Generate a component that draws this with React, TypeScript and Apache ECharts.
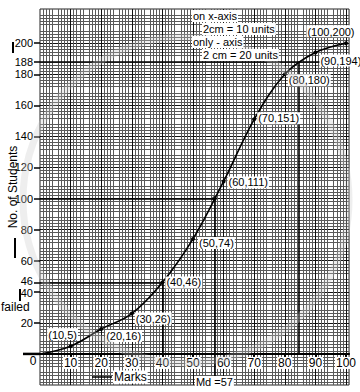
import React, { useEffect, useRef } from "react";
import * as echarts from "echarts";

// ---- data ----
const marks = [0, 10, 20, 30, 40, 50, 60, 70, 80, 90, 100];
const students = [0, 5, 16, 26, 46, 74, 111, 151, 180, 194, 200];
const xTickLabels = [10, 20, 30, 40, 50, 60, 70, 80, 90, 100];
const yTickLabels = [20, 40, 46, 60, 80, 100, 120, 140, 160, 180, 188, 200];
const medianMark = 57;
const medianCount = 100;
const failedMark = 40;
const failedCount = 46;
const passMark = 84.5;
const passCount = 188;

const X_MIN = 0;
const X_MAX = 101;
const Y_MIN = -20;
const Y_MAX = 222;

const FONT = "'Liberation Sans', Arial, Helvetica, sans-serif";

// label placement per point: [position, dx, dy] (style only)
const labelPlacement: [string, number, number][] = [
  ["right", 0, 0],
  ["top", -8, 1],
  ["right", -3, 7],
  ["right", -4, 5],
  ["right", -4, 0],
  ["right", -2, 4],
  ["right", -3, 1],
  ["right", -4, -1],
  ["right", -4, 6],
  ["right", -3, 8],
  ["top", -15, 1],
];

const GRID_TOP = 9;
const GRID_H = 376;

export default function App() {
  const ref = useRef<HTMLDivElement>(null);

  useEffect(() => {
    if (!ref.current) return;
    const chart = echarts.init(ref.current, null, { renderer: "svg" });

    const lineData = marks.map((m, i) => ({
      value: [m, students[i]],
      symbolSize: i === 0 ? 0 : 4,
      label: {
        show: i !== 0,
        position: labelPlacement[i][0] as any,
        offset: [labelPlacement[i][1], labelPlacement[i][2]],
      },
    }));

    const refLine = { color: "#000", width: 1.6, type: "solid" as const };
    // move the x axis (line, ticks, labels) up to the value y = 0
    const xAxisOffset = -((0 - Y_MIN) / (Y_MAX - Y_MIN)) * GRID_H;

    chart.setOption({
      animation: false,
      backgroundColor: "#fff",
      grid: {
        left: 40,
        top: GRID_TOP,
        width: 310,
        height: GRID_H,
        show: true,
        borderColor: "#222",
        borderWidth: 1,
        backgroundColor: "#fff",
      },
      xAxis: {
        type: "value",
        min: X_MIN,
        max: X_MAX,
        interval: 5,
        position: "bottom",
        offset: xAxisOffset,
        axisLine: { show: true, onZero: false, lineStyle: { color: "#000", width: 2 } },
        axisTick: {
          show: true,
          customValues: xTickLabels,
          length: 4,
          lineStyle: { color: "#000", width: 2 },
        },
        axisLabel: {
          customValues: xTickLabels,
          fontSize: 12,
          color: "#000",
          fontFamily: FONT,
          margin: 3,
          backgroundColor: "#fff",
          padding: [0, 1, 0, 1],
        },
        splitLine: { show: true, lineStyle: { color: "#111", width: 1 } },
        minorTick: { show: false, splitNumber: 5 },
        minorSplitLine: { show: true, lineStyle: { color: "#5a5a5a", width: 1 } },
      },
      yAxis: {
        type: "value",
        min: Y_MIN,
        max: Y_MAX,
        interval: 10,
        axisLine: { show: false },
        axisTick: {
          show: true,
          customValues: yTickLabels,
          length: 6,
          lineStyle: { color: "#000", width: 1.5 },
        },
        axisLabel: {
          customValues: yTickLabels,
          fontSize: 11,
          color: "#000",
          fontFamily: FONT,
          margin: 7,
          formatter: (v: number) =>
            v === failedCount ? `{up|${v}}` : v === 40 ? `{down|${v}}` : `${v}`,
          rich: {
            up: { fontSize: 11, fontFamily: FONT, color: "#000", padding: [0, 0, 3, 0] },
            down: { fontSize: 11, fontFamily: FONT, color: "#000", padding: [3, 0, 0, 0] },
          },
        },
        splitLine: { show: true, lineStyle: { color: "#111", width: 1 } },
        minorTick: { show: false, splitNumber: 5 },
        minorSplitLine: { show: true, lineStyle: { color: "#5a5a5a", width: 1 } },
      },
      series: [
        {
          type: "line",
          data: lineData,
          smooth: 0.35,
          symbol: "circle",
          itemStyle: { color: "#000" },
          lineStyle: { color: "#000", width: 1.6 },
          label: {
            formatter: (p: any) => `(${p.value[0]},${p.value[1]})`,
            fontSize: 11,
            fontFamily: FONT,
            color: "#000",
            backgroundColor: "#fff",
            padding: [1, 1, 0, 1],
          },
          z: 5,
          markLine: {
            silent: true,
            symbol: ["none", "none"],
            label: { show: false },
            lineStyle: refLine,
            data: [
              [{ coord: [0, passCount] }, { coord: [X_MAX, passCount] }],
              [{ coord: [passMark, passCount] }, { coord: [passMark, 0] }],
              [{ coord: [0, medianCount] }, { coord: [medianMark, medianCount] }],
              [{ coord: [medianMark, medianCount] }, { coord: [medianMark, -16] }],
              [{ coord: [0, failedCount] }, { coord: [failedMark, failedCount] }],
              [{ coord: [failedMark, failedCount] }, { coord: [failedMark, 0] }],
            ],
          },
        },
        {
          type: "scatter",
          data: [[medianMark, medianCount]],
          symbolSize: 5,
          itemStyle: { color: "#000" },
          z: 6,
        },
      ],
    });

    const o = chart.convertToPixel({ gridIndex: 0 }, [0, 0]) as number[];
    const md = chart.convertToPixel({ gridIndex: 0 }, [medianMark, -18]) as number[];
    const txt = (text: string, x: number, y: number, extra: any = {}) => ({
      type: "text",
      x,
      y,
      z: 50,
      style: {
        text,
        font: `12px ${FONT}`,
        fill: "#000",
        textAlign: "left",
        textVerticalAlign: "middle",
        ...extra,
      },
    });
    const boxed = { font: `11px ${FONT}`, backgroundColor: "#fff", padding: [1, 1, 0, 1] };

    chart.setOption({
      graphic: [
        {
          type: "circle",
          z: 40,
          silent: true,
          shape: { cx: 186, cy: 200, r: 163 },
          style: { fill: "none", stroke: "rgba(200,200,200,0.3)", lineWidth: 7 },
        },
        {
          type: "line",
          z: 50,
          shape: { x1: o[0] - 17, y1: o[1], x2: o[0], y2: o[1] },
          style: { stroke: "#000", lineWidth: 2.5 },
        },
        txt("0", o[0] - 7, o[1] + 7, { textAlign: "center" }),
        txt("on x-axis", 192, 16, boxed),
        txt("2cm = 10 units", 202, 29, boxed),
        txt("only - axis", 192, 42, boxed),
        txt("2 cm = 20 units", 202, 55, boxed),
        { type: "rect", z: 50, shape: { x: 12, y: 42, width: 2, height: 11 }, style: { fill: "#000" } },
        {
          type: "text",
          z: 50,
          x: 13,
          y: 187,
          rotation: Math.PI / 2,
          style: {
            text: "No. of Students",
            font: `12px ${FONT}`,
            fill: "#000",
            textAlign: "center",
            textVerticalAlign: "middle",
          },
        },
        { type: "rect", z: 50, shape: { x: 14, y: 238, width: 2, height: 20 }, style: { fill: "#000" } },
        { type: "rect", z: 50, shape: { x: 19, y: 289, width: 2, height: 12 }, style: { fill: "#000" } },
        txt("failed", 1, 307, { font: `12px ${FONT}` }),
        {
          type: "line",
          z: 50,
          shape: { x1: 92, y1: 377, x2: 112, y2: 377 },
          style: { stroke: "#000", lineWidth: 1.5 },
        },
        txt("Marks", 113, 377, { backgroundColor: "#fff", padding: [1, 1, 0, 1] }),
        txt("Md =57", md[0], md[1], { ...boxed, textAlign: "center" }),
      ],
    });

    return () => chart.dispose();
  }, []);

  return (
    <div
      ref={ref}
      style={{ position: "absolute", left: 0, top: 0, width: 360, height: 392, background: "#fff" }}
    />
  );
}
